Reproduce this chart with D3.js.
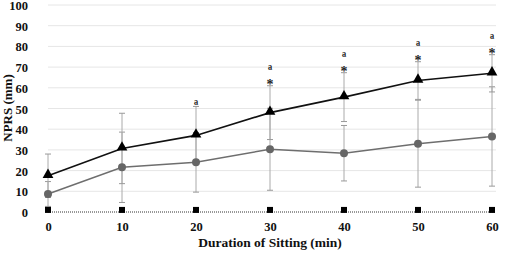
<!DOCTYPE html>
<html>
<head>
<meta charset="utf-8">
<script src="https://cdn.jsdelivr.net/npm/d3@7"></script>
<style>
  body { margin: 0; background: #fff; }
  text { font-family: "Liberation Serif", "DejaVu Serif", serif; font-weight: bold; }
</style>
</head>
<body>
<div id="chart"></div>
<script>
// DATA
var minutes = [0, 10, 20, 30, 40, 50, 60];
var triMean = [17.5, 30.7, 37, 48, 55.5, 63.5, 67];
var triSD = [10.5, 17, 14, 13, 11.8, 9.1, 9];
var circMean = [8.7, 21.6, 24, 30.3, 28.4, 33, 36.5];
var circSD = [6, 17, 14.4, 19.8, 13.4, 21, 24];
var sqMean = [1, 1, 1, 1, 1, 1, 1];
var starAt = [30, 40, 50, 60];
var aAt = [20, 30, 40, 50, 60];
var yTicks = [0, 10, 20, 30, 40, 50, 60, 70, 80, 90, 100];

var width = 513;
var height = 253;

var svg = d3.select("#chart")
  .append("svg")
  .attr("width", width)
  .attr("height", height);

var xScale = d3.scaleLinear().domain([0, 60]).range([48, 492]);
var yScale = d3.scaleLinear().domain([0, 100]).range([212, 5]);

// grid lines
svg.selectAll("line.grid")
  .data(yTicks.slice(1))
  .enter()
  .append("line")
  .attr("class", "grid")
  .attr("x1", 48)
  .attr("x2", 496)
  .attr("y1", function(d) { return yScale(d); })
  .attr("y2", function(d) { return yScale(d); })
  .attr("stroke", "#e6e6e6")
  .attr("stroke-width", 1);

// y axis labels
var yAxis = d3.axisLeft(yScale).tickValues(yTicks).tickSize(0).tickPadding(0);
var gy = svg.append("g")
  .attr("transform", "translate(28,0)")
  .call(yAxis);
gy.select(".domain").remove();
gy.selectAll("text").attr("font-size", 12.5).attr("fill", "#111").attr("dy", "0.36em");

// x axis labels
var xAxis = d3.axisBottom(xScale).tickValues(minutes).tickSize(0).tickPadding(0);
var gx = svg.append("g")
  .attr("transform", "translate(0,222)")
  .call(xAxis);
gx.select(".domain").remove();
gx.selectAll("text").attr("font-size", 12.5).attr("fill", "#111");

// baseline dotted
svg.append("line")
  .attr("x1", xScale(0))
  .attr("x2", 496)
  .attr("y1", yScale(0))
  .attr("y2", yScale(0))
  .attr("stroke", "#333")
  .attr("stroke-width", 1)
  .attr("stroke-dasharray", "1,1");

// axis titles
svg.append("text")
  .attr("x", 270)
  .attr("y", 247)
  .attr("text-anchor", "middle")
  .attr("font-size", 13.5)
  .attr("fill", "#111")
  .text("Duration of Sitting (min)");

svg.append("text")
  .attr("transform", "translate(12,108) rotate(-90)")
  .attr("text-anchor", "middle")
  .attr("font-size", 13)
  .attr("fill", "#111")
  .text("NPRS (mm)");

// error bars
function errorBars(mean, sd, cls) {
  var g = svg.append("g").attr("class", cls);
  g.selectAll("line.bar")
    .data(minutes)
    .enter()
    .append("line")
    .attr("x1", function(d) { return xScale(d); })
    .attr("x2", function(d) { return xScale(d); })
    .attr("y1", function(d, i) { return yScale(mean[i] + sd[i]); })
    .attr("y2", function(d, i) { return yScale(Math.max(0, mean[i] - sd[i])); })
    .attr("stroke", "#aaa")
    .attr("stroke-width", 1);
  [1, -1].forEach(function(s) {
    g.selectAll("line.cap" + s)
      .data(minutes)
      .enter()
      .append("line")
      .attr("x1", function(d) { return xScale(d) - 3; })
      .attr("x2", function(d) { return xScale(d) + 3; })
      .attr("y1", function(d, i) { return yScale(Math.max(0, mean[i] + s * sd[i])); })
      .attr("y2", function(d, i) { return yScale(Math.max(0, mean[i] + s * sd[i])); })
      .attr("stroke", "#999")
      .attr("stroke-width", 1);
  });
}
errorBars(circMean, circSD, "circErr");
errorBars(triMean, triSD, "triErr");

var line = function(arr) {
  return d3.line()
    .x(function(d, i) { return xScale(minutes[i]); })
    .y(function(d) { return yScale(d); })(arr);
};

// gray circle series
svg.append("path")
  .attr("d", line(circMean))
  .attr("fill", "none")
  .attr("stroke", "#6e6e6e")
  .attr("stroke-width", 1.5);

svg.selectAll("circle.c")
  .data(circMean)
  .enter()
  .append("circle")
  .attr("cx", function(d, i) { return xScale(minutes[i]); })
  .attr("cy", function(d) { return yScale(d); })
  .attr("r", 4)
  .attr("fill", "#666");

// black triangle series
svg.append("path")
  .attr("d", line(triMean))
  .attr("fill", "none")
  .attr("stroke", "#111")
  .attr("stroke-width", 1.6);

var tri = d3.symbol().type(d3.symbolTriangle).size(50);
svg.selectAll("path.t")
  .data(triMean)
  .enter()
  .append("path")
  .attr("d", tri)
  .attr("transform", function(d, i) {
    return "translate(" + xScale(minutes[i]) + "," + (yScale(d) - 1) + ")";
  })
  .attr("fill", "#000");

// squares
svg.selectAll("rect.s")
  .data(sqMean)
  .enter()
  .append("rect")
  .attr("x", function(d, i) { return xScale(minutes[i]) - 3; })
  .attr("y", function(d) { return yScale(d) - 3; })
  .attr("width", 6)
  .attr("height", 6)
  .attr("fill", "#000");

// significance marks, placed above the top of the triangle error bar
var barTop = function(m) {
  var i = minutes.indexOf(m);
  return yScale(triMean[i] + triSD[i]);
};
var marks = svg.append("g").attr("opacity", 0.99);

marks.selectAll("text.star")
  .data(starAt)
  .enter()
  .append("text")
  .attr("x", function(d) { return xScale(d); })
  .attr("y", function(d) { return barTop(d) + 3; })
  .attr("text-anchor", "middle")
  .attr("font-size", 14)
  .attr("font-weight", "normal")
  .attr("fill", "#222")
  .text("*");

marks.selectAll("text.a")
  .data(aAt)
  .enter()
  .append("text")
  .attr("x", function(d) { return xScale(d); })
  .attr("y", function(d) { return d === 20 ? barTop(d) + 4 : barTop(d) - 11; })
  .attr("text-anchor", "middle")
  .attr("font-size", 14)
  .attr("fill", "#222")
  .text("ª");
</script>
</body>
</html>
